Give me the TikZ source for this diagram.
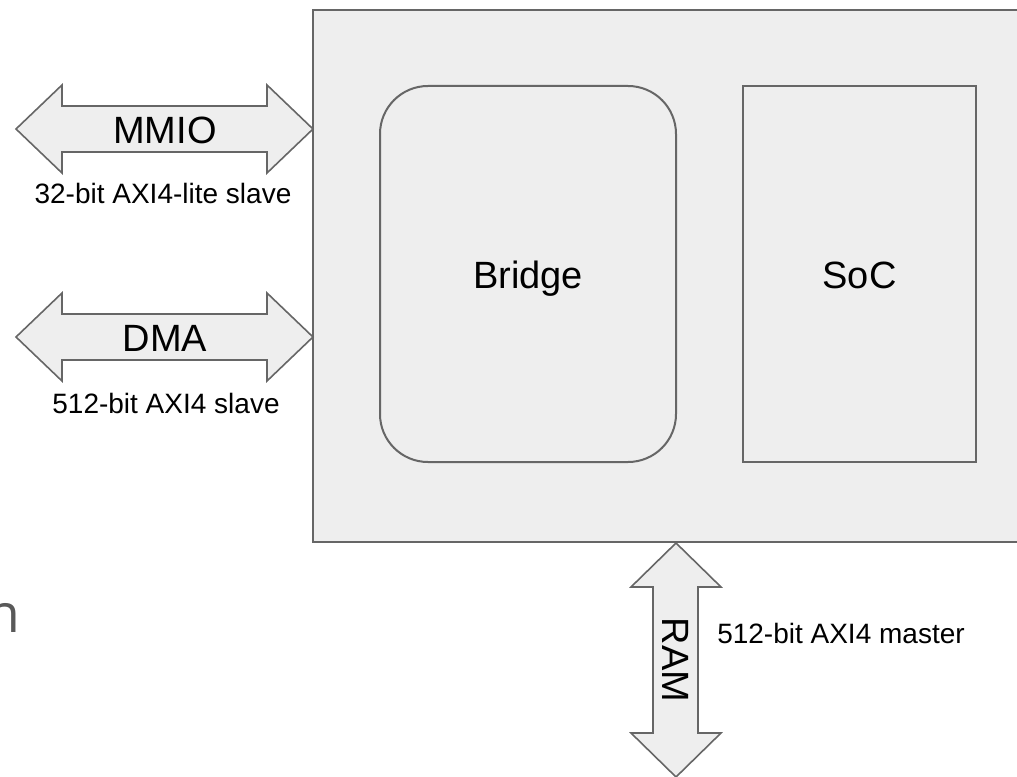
\documentclass[tikz,border=0pt]{standalone}
\usepackage{fontspec}
\setmainfont{Liberation Sans}
\newfontfamily\slidefont{Open Sans}
\definecolor{boxfill}{HTML}{EEEEEE}
\definecolor{boxline}{HTML}{666666}
\definecolor{titlegray}{HTML}{595959}
\begin{document}
\begin{tikzpicture}[x=0.75pt,y=-0.75pt,
  blk/.style={draw=boxline,fill=boxfill,line width=1.5pt,inner sep=0pt},
  dbl/.style={draw=boxline,fill=boxfill,line width=1.2pt,line join=miter},
  bigtxt/.style={font=\fontsize{28.5}{34}\selectfont,inner sep=0pt},
  smalltxt/.style={font=\fontsize{21}{25}\selectfont,inner sep=0pt},
  blocktxt/.style={bigtxt,text height=22.5pt,text depth=0pt}]
\useasboundingbox (0,0) rectangle (1017,777);
\clip (0,0) rectangle (1017,777);

% partial slide title letter at the left edge
\node[anchor=base east, inner sep=0pt, text=titlegray,
      font=\slidefont\fontsize{40}{48}\selectfont] (title) at (21,632) {n};

% outer chip box
\node[blk, minimum width=545.25pt, minimum height=399pt] (chip) at (676.5,276) {};

% inner blocks
\node[blk, blocktxt, rounded corners=36pt, minimum width=222pt, minimum height=282pt] (bridge) at (528,274) {Bridge};
\node[blk, blocktxt, minimum width=174.75pt, minimum height=282pt] (soc) at (859.5,274) {SoC};

% MMIO double arrow
\draw[dbl] (16,129) -- (62,85) -- (62,106) -- (267,106) -- (267,85) -- (313,129)
  -- (267,173) -- (267,152) -- (62,152) -- (62,173) -- cycle;
\node[bigtxt] (mmio) at (165,130) {MMIO};
\node[smalltxt] (mmiolbl) at (163,193) {32-bit AXI4-lite slave};

% DMA double arrow
\draw[dbl] (16,337) -- (62,293) -- (62,314) -- (267,314) -- (267,293) -- (313,337)
  -- (267,381) -- (267,360) -- (62,360) -- (62,381) -- cycle;
\node[bigtxt] (dma) at (165,338) {DMA};
\node[smalltxt] (dmalbl) at (166,403) {512-bit AXI4 slave};

% RAM double arrow
\draw[dbl] (676,543) -- (631,587) -- (653,587) -- (653,733) -- (631,733) -- (676,777)
  -- (721,733) -- (698,733) -- (698,587) -- (721,587) -- cycle;
\node[bigtxt, rotate=-90] (ram) at (676,660) {RAM};
\node[smalltxt, anchor=west] (ramlbl) at (717,633) {512-bit AXI4 master};
\end{tikzpicture}
\end{document}
